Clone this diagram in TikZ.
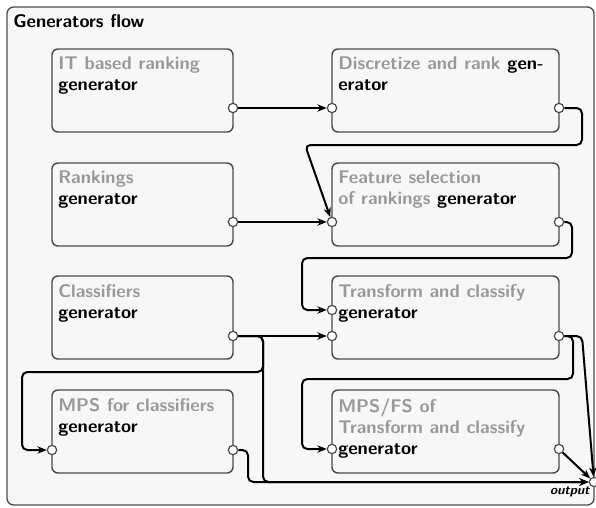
\documentclass[tikz,border=0pt]{standalone}
\usetikzlibrary{arrows.meta}
\usetikzlibrary{positioning}
\usepackage{color}
\newcommand{\flowbgcolor}[0]{black!3}
\newcommand{\flowlinecolor}[0]{black!70}
\newcommand{\flowtextcolor}[0]{black!40}
\newcommand{\flowfont}[0]{\fontsize{13.75pt}{15.75pt}\selectfont\sffamily\bfseries}

\tikzset{
    genbox/.style={rectangle, rounded corners=4.5pt, draw=\flowlinecolor, line width=1.1pt,
        fill=\flowbgcolor, minimum height=62.25pt, inner sep=0pt, outer sep=0pt},
    gentext/.style={anchor=north west, inner sep=0pt, align=left, text=\flowtextcolor, font=\flowfont},
    port/.style={circle, draw=\flowlinecolor, line width=0.9pt, fill=white, minimum size=7pt, inner sep=0pt},
    flow/.style={line width=1.5pt, rounded corners=4pt, -{Stealth[length=7pt,width=5.5pt]}},
}

\begin{document}
\begin{tikzpicture}
    \useasboundingbox (0,0) rectangle (447pt,-380.25pt);
    \draw[rounded corners=5pt, draw=\flowlinecolor, line width=1pt, fill=\flowbgcolor]
        (5.25pt,-5.25pt) rectangle (445.5pt,-378.75pt);
    \node[anchor=base west, inner sep=0pt, font=\flowfont]
        (flow_title) at (9.75pt,-20.25pt) {Generators flow};

    % generator boxes
    \node[genbox, minimum width=135.75pt, anchor=north west]
        (it_rank) at (39pt,-36.75pt) {};
    \node[genbox, minimum width=170.25pt, right=74.25pt of it_rank]
        (disc_rank) {};
    \node[genbox, minimum width=135.75pt, below=23.25pt of it_rank]
        (rankings) {};
    \node[genbox, minimum width=170.25pt, below=23.25pt of disc_rank]
        (fs_rank) {};
    \node[genbox, minimum width=135.75pt, below=22.5pt of rankings]
        (classifiers) {};
    \node[genbox, minimum width=170.25pt, below=22.5pt of fs_rank]
        (trans_class) {};
    \node[genbox, minimum width=135.75pt, below=23.25pt of classifiers]
        (mps_class) {};
    \node[genbox, minimum width=170.25pt, below=23.25pt of trans_class]
        (mps_trans) {};

    \node[gentext] (it_rank_text) at ([xshift=4.5pt,yshift=-6pt]it_rank.north west)
        {IT based ranking\\\textcolor{black}{generator}};
    \node[gentext] (disc_rank_text) at ([xshift=4.5pt,yshift=-6pt]disc_rank.north west)
        {Discretize and rank \textcolor{black}{gen-}\\\textcolor{black}{erator}};
    \node[gentext] (rankings_text) at ([xshift=4.5pt,yshift=-6pt]rankings.north west)
        {Rankings\\\textcolor{black}{generator}};
    \node[gentext] (fs_rank_text) at ([xshift=4.5pt,yshift=-6pt]fs_rank.north west)
        {Feature selection\\of rankings \textcolor{black}{generator}};
    \node[gentext] (classifiers_text) at ([xshift=4.5pt,yshift=-6pt]classifiers.north west)
        {Classifiers\\\textcolor{black}{generator}};
    \node[gentext] (trans_class_text) at ([xshift=4.5pt,yshift=-6pt]trans_class.north west)
        {Transform and classify\\\textcolor{black}{generator}};
    \node[gentext] (mps_class_text) at ([xshift=4.5pt,yshift=-6pt]mps_class.north west)
        {MPS for classifiers\\\textcolor{black}{generator}};
    \node[gentext] (mps_trans_text) at ([xshift=4.5pt,yshift=-6pt]mps_trans.north west)
        {MPS/FS of\\Transform and classify\\\textcolor{black}{generator}};

    % ports
    \node[port] (it_rank_out) at ([yshift=-44.25pt]it_rank.north east) {};
    \node[port] (disc_rank_in) at ([yshift=-44.25pt]disc_rank.north west) {};
    \node[port] (disc_rank_out) at ([yshift=-44.25pt]disc_rank.north east) {};
    \node[port] (rankings_out) at ([yshift=-44.25pt]rankings.north east) {};
    \node[port] (fs_rank_in) at ([yshift=-44.25pt]fs_rank.north west) {};
    \node[port] (fs_rank_out) at ([yshift=-44.25pt]fs_rank.north east) {};
    \node[port] (classifiers_out) at ([yshift=-45pt]classifiers.north east) {};
    \node[port] (trans_class_in_a) at ([yshift=-25.5pt]trans_class.north west) {};
    \node[port] (trans_class_in_b) at ([yshift=-45pt]trans_class.north west) {};
    \node[port] (trans_class_out) at ([yshift=-45pt]trans_class.north east) {};
    \node[port] (mps_class_in) at ([yshift=-45pt]mps_class.north west) {};
    \node[port] (mps_class_out) at ([yshift=-45pt]mps_class.north east) {};
    \node[port] (mps_trans_in) at ([yshift=-44.25pt]mps_trans.north west) {};
    \node[port] (mps_trans_out) at ([yshift=-44.25pt]mps_trans.north east) {};
    \node[port] (output) at (445.5pt,-361.5pt) {};
    \node[anchor=base east, inner sep=0pt, font=\fontsize{9.75pt}{11pt}\selectfont\sffamily\bfseries\itshape]
        (output_label) at ([xshift=-3pt,yshift=-9pt]output.center) {output};

    % connectors
    \draw[flow] (it_rank_out) -- (disc_rank_in);
    \draw[flow] (disc_rank_out) -- ++(17.25pt,0)
        |- ([xshift=-20.25pt,yshift=57.75pt]fs_rank_in.center) -- (fs_rank_in);
    \draw[flow] (rankings_out) -- (fs_rank_in);
    \draw[flow] (fs_rank_out) -- ++(9.75pt,0)
        |- ([xshift=-22.5pt,yshift=39pt]trans_class_in_a.center) |- (trans_class_in_a);
    \draw[flow] (classifiers_out) -- (trans_class_in_b);
    \draw[flow] (classifiers_out) -- ++(22.5pt,0) -- ++(0,-27pt)
        -| ([xshift=-22.5pt]mps_class_in.center) -- (mps_class_in);
    \draw[flow] (classifiers_out) -- ++(22.5pt,0) |- (output);
    \draw[flow] (mps_class_out) -- ++(11.25pt,0) |- (output);
    \draw[flow] (trans_class_out) -- ++(17.25pt,0) -- (output);
    \draw[flow] (trans_class_out) -- ++(10.5pt,0)
        |- ([xshift=-22.5pt,yshift=52.5pt]mps_trans_in.center) |- (mps_trans_in);
    \draw[flow] (mps_trans_out) -- (output);
\end{tikzpicture}
\end{document}
